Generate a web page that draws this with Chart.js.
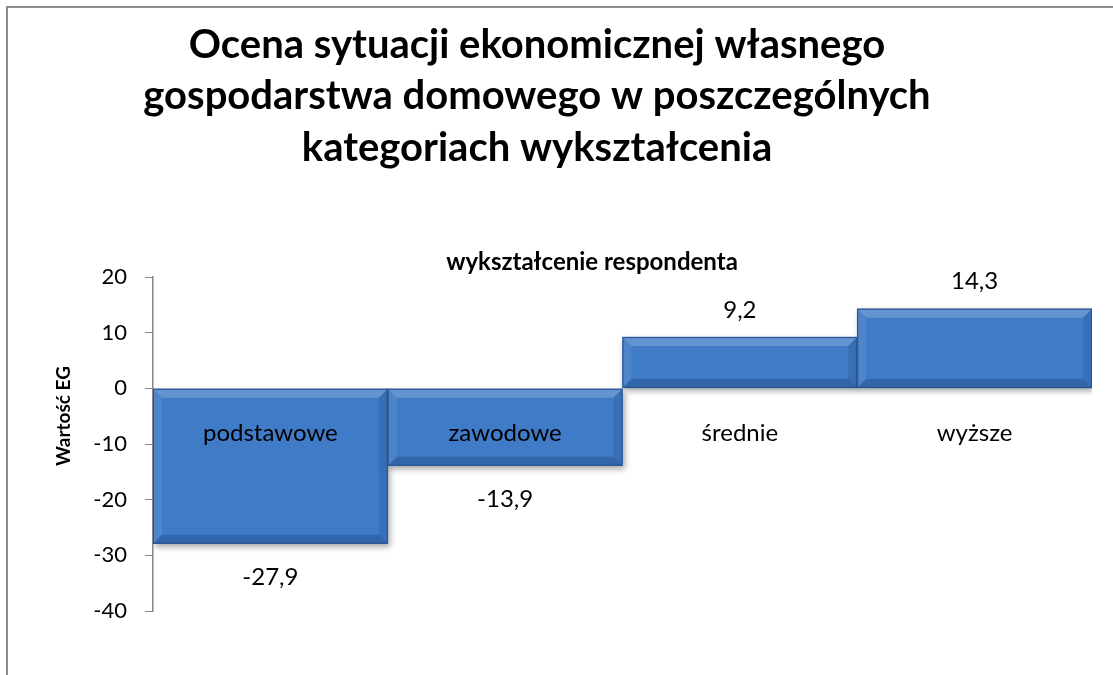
<!DOCTYPE html>
<html lang="pl">
<head>
<meta charset="utf-8">
<title>Ocena sytuacji ekonomicznej</title>
<script src="https://cdn.jsdelivr.net/npm/chart.js@4.4.1/dist/chart.umd.min.js"></script>
<style>
    html, body { margin: 0; padding: 0; background: #fff; overflow: hidden; }
    #wrap { position: relative; width: 1113px; height: 675px; }
</style>
</head>
<body>
<div id="wrap"><canvas id="eduChart" width="1113" height="675"></canvas></div>
<script>
// Chart data
const categories = ['podstawowe', 'zawodowe', 'średnie', 'wyższe'];
const values = [-27.9, -13.9, 9.2, 14.3];
const yTicks = [20, 10, 0, -10, -20, -30, -40];
const titleLines = [
    'Ocena sytuacji ekonomicznej własnego',
    'gospodarstwa domowego w poszczególnych',
    'kategoriach wykształcenia'
];
const xTitle = 'wykształcenie respondenta';
const yTitle = 'Wartość EG';

const FONT = 'Lato, "Open Sans", "DejaVu Sans", sans-serif';
const COLORS = {
    barTop: '#4d8bd6',
    barMid: '#3f7bc6',
    barBottom: '#33629f',
    barBorder: '#2a5088',
    axis: '#868686',
    text: '#000000',
    frame: '#8c8c8c'
};

const fmt = v => v.toFixed(1).replace('.', ',');

// Frame, title lines, axis titles
const decorPlugin = {
    id: 'decor',
    beforeDraw(chart) {
        const ctx = chart.ctx;
        ctx.save();
        ctx.strokeStyle = COLORS.frame;
        ctx.lineWidth = 2;
        ctx.beginPath();
        ctx.moveTo(7, chart.height);
        ctx.lineTo(7, 7);
        ctx.lineTo(chart.width, 7);
        ctx.stroke();
        ctx.restore();
    },
    afterDraw(chart) {
        const ctx = chart.ctx;
        ctx.save();
        ctx.fillStyle = COLORS.text;
        ctx.textAlign = 'center';
        ctx.textBaseline = 'middle';
        ctx.font = 'bold 40px ' + FONT;
        titleLines.forEach((line, i) => ctx.fillText(line, 537, 45 + i * 51.5));
        ctx.font = 'bold 24px ' + FONT;
        ctx.fillText(xTitle, 592, 262);
        // rotated y axis title
        ctx.translate(64, 416);
        ctx.rotate(-Math.PI / 2);
        ctx.font = 'bold 19px ' + FONT;
        ctx.fillText(yTitle, 0, 0);
        ctx.restore();
    }
};

// Shadow under the bars
const shadowPlugin = {
    id: 'barShadow',
    beforeDatasetsDraw(chart) {
        const ctx = chart.ctx;
        ctx.save();
        ctx.shadowColor = 'rgba(0,0,0,0.35)';
        ctx.shadowBlur = 6;
        ctx.shadowOffsetX = 2;
        ctx.shadowOffsetY = 3;
    },
    afterDatasetsDraw(chart) {
        chart.ctx.restore();
    }
};

// Bevel edges, value labels and category labels
const labelPlugin = {
    id: 'barLabels',
    afterDatasetsDraw(chart) {
        const ctx = chart.ctx;
        const meta = chart.getDatasetMeta(0);
        const yScale = chart.scales.y;
        ctx.save();
        meta.data.forEach((bar, i) => {
            const left = bar.x - bar.width / 2;
            const right = bar.x + bar.width / 2;
            const top = Math.min(bar.y, bar.base);
            const bottom = Math.max(bar.y, bar.base);
            const b = 9;
            // top bevel (light)
            ctx.fillStyle = 'rgba(255,255,255,0.20)';
            ctx.beginPath();
            ctx.moveTo(left, top); ctx.lineTo(right, top);
            ctx.lineTo(right - b, top + b); ctx.lineTo(left + b, top + b);
            ctx.closePath(); ctx.fill();
            // left bevel
            ctx.fillStyle = 'rgba(255,255,255,0.08)';
            ctx.beginPath();
            ctx.moveTo(left, top); ctx.lineTo(left + b, top + b);
            ctx.lineTo(left + b, bottom - b); ctx.lineTo(left, bottom);
            ctx.closePath(); ctx.fill();
            // bottom bevel (dark)
            ctx.fillStyle = 'rgba(0,20,60,0.20)';
            ctx.beginPath();
            ctx.moveTo(left, bottom); ctx.lineTo(right, bottom);
            ctx.lineTo(right - b, bottom - b); ctx.lineTo(left + b, bottom - b);
            ctx.closePath(); ctx.fill();
            // right bevel
            ctx.fillStyle = 'rgba(0,20,60,0.10)';
            ctx.beginPath();
            ctx.moveTo(right, top); ctx.lineTo(right - b, top + b);
            ctx.lineTo(right - b, bottom - b); ctx.lineTo(right, bottom);
            ctx.closePath(); ctx.fill();
            ctx.strokeStyle = COLORS.barBorder;
            ctx.lineWidth = 1;
            ctx.strokeRect(left + 0.5, top + 0.5, bar.width - 1, bottom - top - 1);
        });

        ctx.fillStyle = COLORS.text;
        ctx.textAlign = 'center';
        ctx.textBaseline = 'middle';
        ctx.font = '24px ' + FONT;
        meta.data.forEach((bar, i) => {
            const v = values[i];
            const y = v < 0 ? bar.y + 34 : bar.y - 27;
            ctx.fillText(fmt(v), bar.x, y);
            ctx.fillText(categories[i], bar.x, yScale.getPixelForValue(-8));
        });
        ctx.restore();
    }
};

function barGradient(context) {
    const chart = context.chart;
    const el = context.element;
    if (!chart.chartArea || !el) return COLORS.barMid;
    const top = Math.min(el.y, el.base);
    const bottom = Math.max(el.y, el.base);
    if (!isFinite(top) || !isFinite(bottom) || bottom - top < 1) return COLORS.barMid;
    const g = chart.ctx.createLinearGradient(0, top, 0, bottom);
    g.addColorStop(0, COLORS.barTop);
    g.addColorStop(0.5, COLORS.barMid);
    g.addColorStop(1, COLORS.barBottom);
    return g;
}

const chart = new Chart(document.getElementById('eduChart'), {
    type: 'bar',
    data: {
        labels: categories,
        datasets: [{
            label: yTitle,
            data: values,
            backgroundColor: barGradient,
            borderWidth: 0,
            categoryPercentage: 1,
            barPercentage: 1
        }]
    },
    options: {
        responsive: false,
        animation: false,
        layout: { padding: { left: 0, right: 21, top: 277, bottom: 64 } },
        plugins: {
            legend: { display: false },
            tooltip: { enabled: false }
        },
        scales: {
            x: {
                display: false
            },
            y: {
                min: -40,
                max: 20,
                afterFit(scale) { scale.width = 153; },
                afterBuildTicks(scale) { scale.ticks = yTicks.map(v => ({ value: v })); },
                ticks: {
                    color: COLORS.text,
                    padding: 18,
                    font: { family: FONT, size: 22 }
                },
                grid: {
                    drawOnChartArea: false,
                    drawTicks: true,
                    tickLength: 8,
                    color: COLORS.axis
                },
                border: { display: true, color: COLORS.axis, width: 1.5 }
            }
        }
    },
    plugins: [decorPlugin, shadowPlugin, labelPlugin]
});
</script>
</body>
</html>
